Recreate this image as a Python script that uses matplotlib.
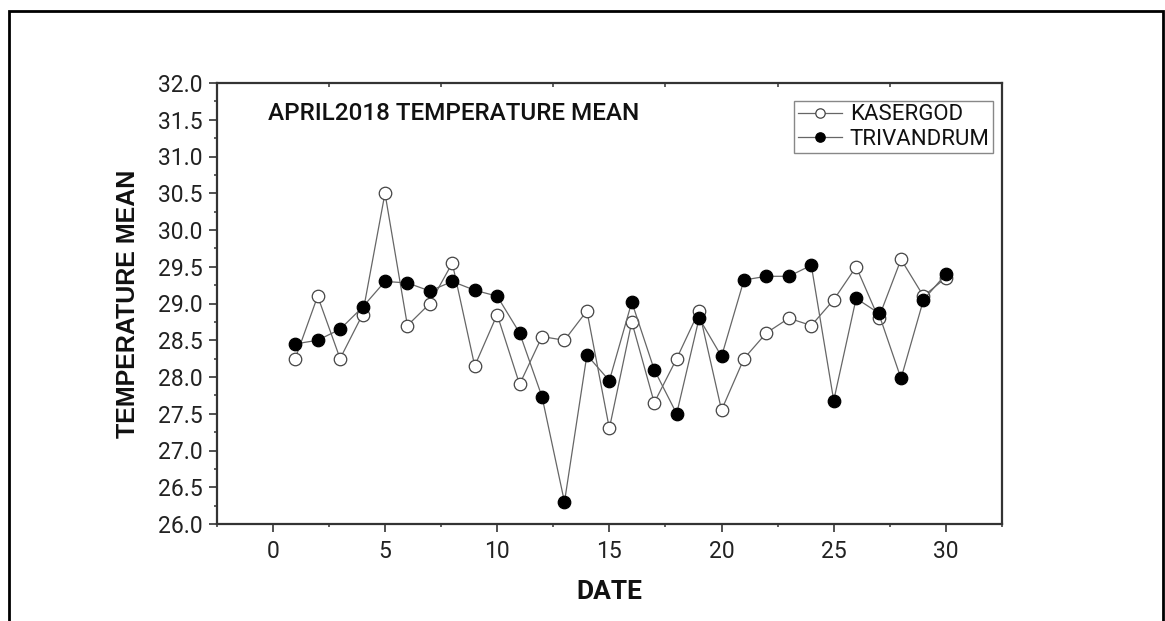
import numpy as np
import matplotlib
matplotlib.use("Agg")
from matplotlib import pyplot as plt
from matplotlib.patches import Rectangle
from matplotlib.ticker import MultipleLocator, FormatStrFormatter

# April 2018 daily mean temperature
days = list(range(1, 31))
kasergod = [28.25, 29.1, 28.25, 28.85, 30.5, 28.7, 29.0, 29.55, 28.15, 28.85,
            27.9, 28.55, 28.5, 28.9, 27.3, 28.75, 27.65, 28.25, 28.9, 27.55,
            28.25, 28.6, 28.8, 28.7, 29.05, 29.5, 28.8, 29.6, 29.1, 29.35]
trivandrum = [28.45, 28.5, 28.65, 28.95, 29.3, 29.28, 29.17, 29.3, 29.18, 29.1,
              28.6, 27.73, 26.3, 28.3, 27.95, 29.02, 28.1, 27.5, 28.8, 28.28,
              29.32, 29.37, 29.37, 29.52, 27.68, 29.07, 28.87, 27.98, 29.05, 29.4]
series_names = ["KASERGOD", "TRIVANDRUM"]
chart_title = "APRIL2018 TEMPERATURE MEAN"

W, H = 1165, 621
fig = plt.figure(figsize=(W / 100, H / 100), dpi=100)
ax = fig.add_axes([216.7 / W, 1 - 524 / H, (1002 - 216.7) / W, (524 - 83) / H])

ax.plot(days, kasergod, '-o', color='#666666', lw=0.9, ms=9,
        mfc='white', mec='#444444', mew=0.9, label=series_names[0], zorder=3)
ax.plot(days, trivandrum, '-o', color='#666666', lw=0.9, ms=9,
        mfc='black', mec='black', mew=0.9, label=series_names[1], zorder=4)

ax.set_xlim(-2.5, 32.5)
ax.set_ylim(26.0, 32.0)
ax.xaxis.set_major_locator(MultipleLocator(5))
ax.xaxis.set_minor_locator(MultipleLocator(2.5))
ax.yaxis.set_major_locator(MultipleLocator(0.5))
ax.yaxis.set_minor_locator(MultipleLocator(0.25))
ax.yaxis.set_major_formatter(FormatStrFormatter('%.1f'))

ax.tick_params(which='major', direction='out', length=5.5, width=1.2,
               color='#333333', labelsize=16.5, labelcolor='#222222')
ax.tick_params(axis='x', which='major', pad=6)
ax.tick_params(axis='y', which='major', pad=4.5)
ax.tick_params(which='minor', direction='out', length=2.4, width=1.1, color='#333333')
for lab in ax.get_xticklabels() + ax.get_yticklabels():
    lab.set_fontfamily('Roboto')

# top edge only carries small inward ticks between the labelled ones
top = ax.secondary_xaxis('top')
top.set_xticks(np.arange(2.5, 32.5, 5))
top.tick_params(direction='in', length=3, width=1.1, color='#333333', labeltop=False)
top.spines['top'].set_visible(False)

for side in ['left', 'bottom', 'top', 'right']:
    ax.spines[side].set_color('#333333')
    ax.spines[side].set_linewidth(1.6)

ax.set_ylabel("TEMPERATURE MEAN", family='Liberation Sans', weight='bold',
              size=18, color='#111111', labelpad=13)
ax.set_xlabel("DATE", family='Roboto', weight='bold', size=19,
              color='#111111', labelpad=12)
ax.text(268 / W, 1 - 113 / H, chart_title, transform=fig.transFigure,
        family='Roboto', weight='medium', size=17.5, color='#111111',
        ha='left', va='center')

leg = ax.legend(loc='upper right', bbox_to_anchor=(993 / W, 1 - 101 / H),
                bbox_transform=fig.transFigure, borderaxespad=0,
                prop={'family': 'Roboto', 'size': 16}, frameon=True,
                fancybox=False, framealpha=1, edgecolor='#888888',
                handlelength=2.0, handletextpad=0.35, labelspacing=0.15,
                borderpad=0.15, markerscale=0.75)
leg.get_frame().set_linewidth(1.0)
for t in leg.get_texts():
    t.set_color('#111111')

fig.patches.append(Rectangle((9 / W, -0.05), (1163 - 9) / W, 1.05 - 11 / H,
                             transform=fig.transFigure, fill=False,
                             edgecolor='black', lw=2, zorder=10))

fig.savefig('out.png', dpi=100)
